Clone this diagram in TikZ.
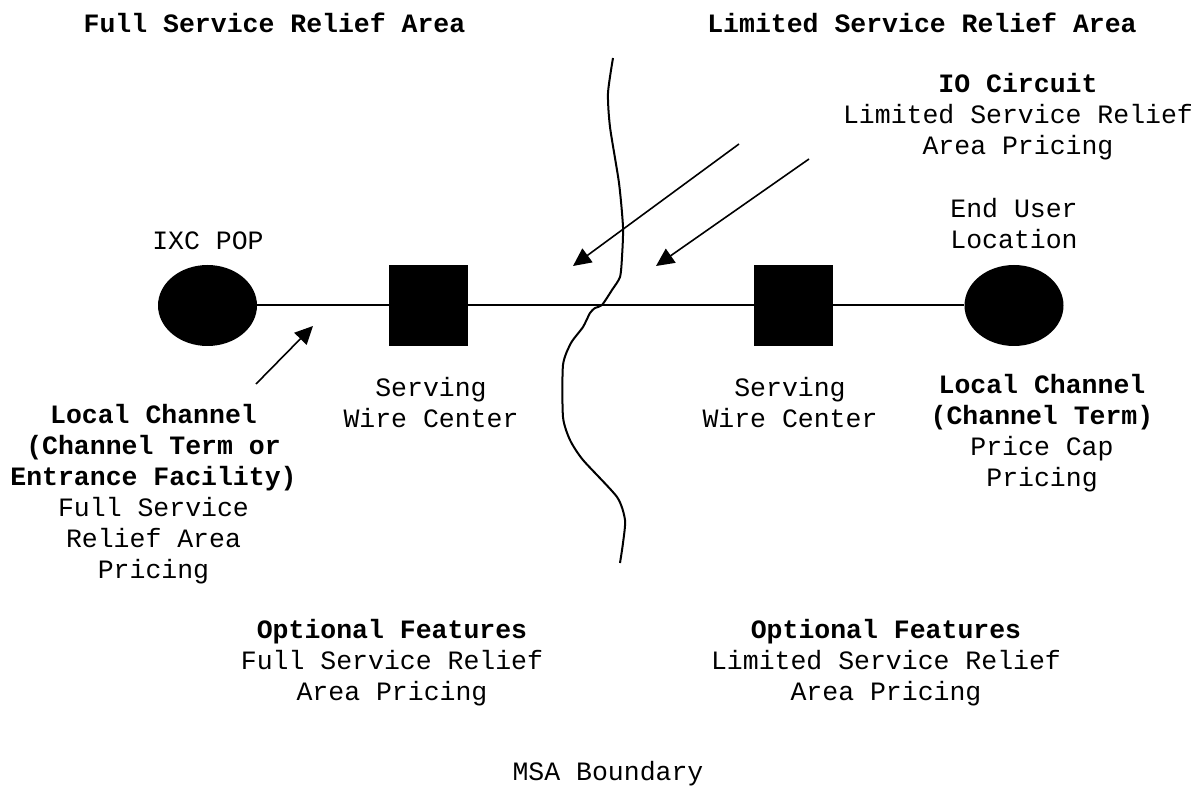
\documentclass[tikz,border=0pt]{standalone}
\usepackage{fontspec}
\setmainfont{Liberation Mono}
\usetikzlibrary{shapes.geometric,arrows.meta}
\begin{document}
\begin{tikzpicture}[x=1pt,y=-1pt,
  lbl/.style={align=center,inner sep=0pt,font=\fontsize{26.5}{31}\selectfont},
  site/.style={ellipse,fill=black,minimum width=99pt,minimum height=81pt,inner sep=0pt},
  office/.style={rectangle,fill=black,minimum width=79pt,minimum height=81pt,inner sep=0pt},
  link/.style={line width=2pt},
  pointer/.style={line width=1.6pt,-{Triangle[length=18pt,width=17pt]}},
  boundary/.style={line width=2pt,line join=round}]
\useasboundingbox (0,0) rectangle (1197,791);

% titles
\node[lbl,font=\fontsize{26.5}{31}\selectfont\bfseries] (tfull) at (274.5,23) {Full Service Relief Area};
\node[lbl,font=\fontsize{26.5}{31}\selectfont\bfseries] (tlim) at (922,23) {Limited Service Relief Area};

% boundary
\draw[boundary] plot[smooth,tension=0.4] coordinates {
 (613,58) (608,93) (610,127) (619,183) (623,227) (622,257) (620,277) (612,290)
 (602,305) (595,308) (590,313) (583,327) (571,343) (563,365) (563,417) (570,440)
 (583,460) (617,497) (625,520) (623,543) (620,563)};

% sites and offices
\node[site] (ixc) at (207.5,305.5) {};
\node[office] (wc1) at (428.5,305.5) {};
\node[office] (wc2) at (793.5,305.5) {};
\node[site] (eu) at (1014,305.5) {};

\draw[link] (ixc.east) -- (wc1.west);
\draw[link] (wc1.east) -- (wc2.west);
\draw[link] (wc2.east) -- (eu.west);

% labels
\node[lbl] (lixc) at (208,241) {IXC POP};
\node[lbl] (leu) at (1014,224) {End User\\Location};
\node[lbl] (lwc1) at (431,403) {Serving\\Wire Center};
\node[lbl] (lwc2) at (790,403) {Serving\\Wire Center};
\node[lbl] (llc) at (1042,433) {\textbf{Local Channel}\\\textbf{(Channel Term)}\\Price Cap\\Pricing};
\node[lbl] (lleft) at (153.5,494) {\textbf{Local Channel}\\\textbf{(Channel Term or}\\\textbf{Entrance Facility)}\\Full Service\\Relief Area\\Pricing};
\node[lbl] (lio) at (1018,117) {\textbf{IO Circuit}\\Limited Service Relief\\Area Pricing};
\node[lbl] (lopt1) at (392,663) {\textbf{Optional Features}\\Full Service Relief\\Area Pricing};
\node[lbl] (lopt2) at (886,663) {\textbf{Optional Features}\\Limited Service Relief\\Area Pricing};
\node[lbl] (lmsa) at (608,774) {MSA Boundary};

% arrows
\coordinate (a1s) at (256,384);
\coordinate (a1e) at (313,326);
\coordinate (a2s) at (739,144);
\coordinate (a2e) at (573,266);
\coordinate (a3s) at (809,159);
\coordinate (a3e) at (656,266);
\draw[pointer] (a1s) -- (a1e);
\draw[pointer] (a2s) -- (a2e);
\draw[pointer] (a3s) -- (a3e);
\end{tikzpicture}
\end{document}
